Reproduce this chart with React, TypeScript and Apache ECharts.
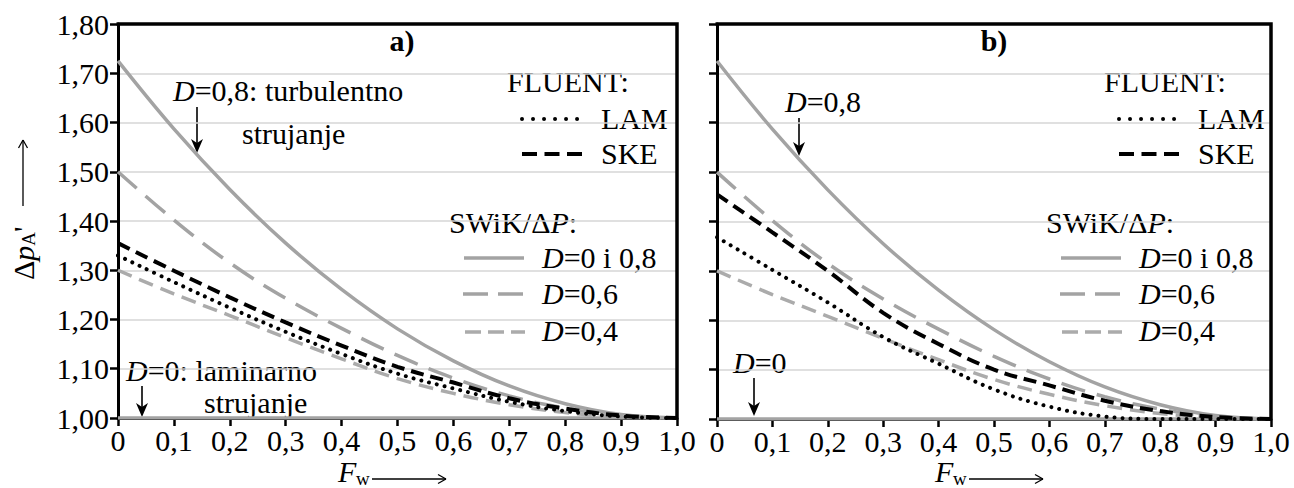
import React, { useEffect, useRef } from "react";
import * as echarts from "echarts";

const FONT = '"Liberation Serif", "Times New Roman", serif';
const FS = 30;

// x positions (relative flow-through area F_w)
const FW = [0, 0.1, 0.2, 0.3, 0.4, 0.5, 0.6, 0.7, 0.8, 0.9, 1.0];
const X_TICK_LABELS = ["0", "0,1", "0,2", "0,3", "0,4", "0,5", "0,6", "0,7", "0,8", "0,9", "1,0"];
const Y_TICK_LABELS = ["1,00", "1,10", "1,20", "1,30", "1,40", "1,50", "1,60", "1,70", "1,80"];

// SWiK/ΔP curves (same in both panels)
const SWIK_D0 = [1.0, 1.0, 1.0, 1.0, 1.0, 1.0, 1.0, 1.0, 1.0, 1.0, 1.0];
const SWIK_D08 = [1.725, 1.587, 1.464, 1.355, 1.261, 1.181, 1.116, 1.065, 1.029, 1.007, 1.0];
const SWIK_D06 = [1.5, 1.402, 1.315, 1.243, 1.182, 1.127, 1.081, 1.045, 1.02, 1.005, 1.0];
const SWIK_D04 = [1.3, 1.252, 1.208, 1.163, 1.12, 1.08, 1.05, 1.027, 1.011, 1.003, 1.0];

// FLUENT panel a)
const LAM_A = [1.33, 1.276, 1.224, 1.175, 1.13, 1.09, 1.06, 1.033, 1.014, 1.003, 1.0];
const SKE_A = [1.355, 1.299, 1.245, 1.194, 1.147, 1.104, 1.072, 1.04, 1.019, 1.005, 1.0];
// FLUENT panel b)
const LAM_B = [1.368, 1.302, 1.236, 1.166, 1.112, 1.06, 1.025, 1.005, 1.0, 1.0, 1.0];
const SKE_B = [1.455, 1.378, 1.3, 1.215, 1.152, 1.1, 1.068, 1.037, 1.016, 1.004, 1.0];

const GREY = "#a3a3a3";
const STY = {
  d0: { color: GREY, width: 3.5, type: "solid" },
  d08: { color: GREY, width: 3.5, type: "solid" },
  d06: { color: GREY, width: 3.5, type: [25, 12] },
  d04: { color: "#ababab", width: 3.5, type: [15, 8] },
  lam: { color: "#000", width: 4, type: [0.01, 8], cap: "round" },
  ske: { color: "#000", width: 4, type: [13, 7] },
};

const pairs = (ys: number[]) => FW.map((x, i) => [x, ys[i]]);

const RICH = {
  i: { fontStyle: "italic", fontSize: FS, fontFamily: FONT, fill: "#000" },
  n: { fontSize: FS, fontFamily: FONT, fill: "#000" },
  s: { fontSize: 19, fontFamily: FONT, fill: "#000", verticalAlign: "bottom" },
  p: { fontSize: FS, fontFamily: FONT, fill: "#000", verticalAlign: "top" },
};

const T = (x: number, y: number, text: string, extra: any = {}) => ({
  type: "text",
  x,
  y,
  silent: true,
  style: {
    text,
    fill: "#000",
    fontSize: FS,
    fontFamily: FONT,
    textAlign: "left",
    textVerticalAlign: "middle",
    rich: RICH,
    ...extra,
  },
});

const L = (x1: number, y1: number, x2: number, y2: number, w: number) => ({
  type: "line",
  silent: true,
  shape: { x1, y1, x2, y2 },
  style: { stroke: "#000", lineWidth: w },
});

const downArrow = (x: number, y1: number, y2: number) => [
  L(x, y1, x, y2 - 8, 1.6),
  {
    type: "polygon",
    silent: true,
    shape: { points: [[x - 6, y2 - 14], [x, y2], [x + 6, y2 - 14], [x, y2 - 10]] },
    style: { fill: "#000" },
  },
];

const rightArrow = (x1: number, x2: number, y: number) => [
  L(x1, y, x2, y, 1.3),
  L(x2 - 8, y - 4.5, x2, y, 1.3),
  L(x2 - 8, y + 4.5, x2, y, 1.3),
];

const upArrow = (x: number, y1: number, y2: number) => [
  L(x, y1, x, y2, 1.3),
  L(x - 4.5, y2 + 8, x, y2, 1.3),
  L(x + 4.5, y2 + 8, x, y2, 1.3),
];

const legLine = (x1: number, x2: number, y: number, st: any) => ({
  type: "line",
  silent: true,
  shape: { x1, y1: y, x2, y2: y },
  style: {
    stroke: st.color,
    lineWidth: st.width,
    lineDash: Array.isArray(st.type) ? st.type : null,
    lineCap: st.cap || "butt",
  },
});

const legend = (dx: number) => [
  T(507 + dx, 81, "FLUENT:"),
  legLine(522 + dx, 580 + dx, 119, { ...STY.lam, type: [0.01, 11] }),
  T(601 + dx, 118, "LAM"),
  legLine(522 + dx, 582 + dx, 154, { ...STY.ske, type: [15, 7.5] }),
  T(601 + dx, 153, "SKE"),
  T(449 + dx, 222, "SWiK/Δ{i|P}:"),
  legLine(464 + dx, 524 + dx, 258, STY.d08),
  T(542 + dx, 257, "{i|D}=0 i 0,8"),
  legLine(463 + dx, 527 + dx, 294, { ...STY.d06, type: [25, 10] }),
  T(542 + dx, 293, "{i|D}=0,6"),
  legLine(465 + dx, 525 + dx, 332, { ...STY.d04, type: [16, 7] }),
  T(542 + dx, 330, "{i|D}=0,4"),
];

// frame (top and right edges) of a plot area
const frame = (l: number, t: number, w: number, h: number) => ({
  type: "polyline",
  z: 100,
  shape: { points: [[l - 1.5, t], [l + w, t], [l + w, t + h]] },
  style: { stroke: "#000", lineWidth: 3.5, fill: null },
});

const xAxisDef = (gi: number) => ({
  type: "value",
  gridIndex: gi,
  min: 0,
  max: 1,
  interval: 0.1,
  axisLine: { show: true, lineStyle: { color: "#000", width: 3 } },
  axisTick: { show: true, length: 8, lineStyle: { color: "#000", width: 2.5 } },
  splitLine: { show: false },
  axisLabel: {
    show: true,
    color: "#000",
    fontSize: FS,
    fontFamily: FONT,
    margin: 7,
    formatter: (v: number) => X_TICK_LABELS[Math.round(v * 10)] ?? "",
  },
});

const yAxisDef = (gi: number, labels: boolean) => ({
  type: "value",
  gridIndex: gi,
  min: 1,
  max: 1.8,
  interval: 0.1,
  axisLine: { show: true, onZero: false, lineStyle: { color: "#000", width: 3 } },
  axisTick: { show: true, length: 8, lineStyle: { color: "#000", width: 2.5 } },
  splitLine: { show: true, lineStyle: { color: "#d6d6d6", width: 1.5 } },
  axisLabel: {
    show: labels,
    color: "#000",
    fontSize: FS,
    fontFamily: FONT,
    margin: 9,
    formatter: (v: number) => Y_TICK_LABELS[Math.round((v - 1) * 10)] ?? "",
  },
});

const mk = (name: string, data: number[], gi: number, st: any, z = 2) => ({
  type: "line",
  name,
  xAxisIndex: gi,
  yAxisIndex: gi,
  data: pairs(data),
  smooth: 0.4,
  symbol: "none",
  silent: true,
  z,
  lineStyle: { color: st.color, width: st.width, type: st.type, cap: st.cap || "butt" },
});

export default function App() {
  const ref = useRef<HTMLDivElement>(null);
  useEffect(() => {
    if (!ref.current) return;
    const chart = echarts.init(ref.current, null, { renderer: "svg" });
    const series: any[] = [];
    [0, 1].forEach((gi) => {
      series.push(mk("SWiK D=0", SWIK_D0, gi, STY.d0));
      series.push(mk("SWiK D=0,8", SWIK_D08, gi, STY.d08));
      series.push(mk("SWiK D=0,6", SWIK_D06, gi, STY.d06));
      series.push(mk("SWiK D=0,4", SWIK_D04, gi, STY.d04));
      series.push(mk("FLUENT LAM", gi === 0 ? LAM_A : LAM_B, gi, STY.lam, 3));
      series.push(mk("FLUENT SKE", gi === 0 ? SKE_A : SKE_B, gi, STY.ske, 3));
    });

    const graphic: any[] = [
      frame(118, 24, 559, 394),
      frame(717, 24, 554, 395),
      // panel labels
      T(402, 40, "a)", { textAlign: "center", fontWeight: "bold" }),
      T(994, 40, "b)", { textAlign: "center", fontWeight: "bold" }),
      // annotations a)
      T(173, 90, "{i|D}=0,8: turbulentno"),
      T(242, 133, "strujanje"),
      ...downArrow(197, 107, 153),
      T(126, 370, "{i|D}=0: laminarno"),
      T(204, 402, "strujanje"),
      ...downArrow(142, 386, 417),
      // annotations b)
      T(785, 101, "{i|D}=0,8"),
      ...downArrow(799, 118, 156),
      T(733, 362, "{i|D}=0"),
      ...downArrow(754, 378, 416),
      // legends
      ...legend(0),
      ...legend(597),
      // x axis titles
      T(338, 471, "F", { fontStyle: "italic", rich: undefined }),
      T(356, 478, "w", { fontSize: 19, rich: undefined }),
      ...rightArrow(372, 446, 479),
      T(935, 471, "F", { fontStyle: "italic", rich: undefined }),
      T(953, 478, "w", { fontSize: 19, rich: undefined }),
      ...rightArrow(969, 1043, 479),
      // y axis title
      {
        type: "group",
        x: 38,
        y: 280,
        rotation: Math.PI / 2,
        children: [
          {
            type: "text",
            x: 0,
            y: 0,
            silent: true,
            style: {
              text: "{n|Δ}{i|p}{s|A}{p|'}",
              fill: "#000",
              fontSize: FS,
              fontFamily: FONT,
              textAlign: "left",
              textVerticalAlign: "bottom",
              rich: RICH,
            },
          },
        ],
      },
      ...upArrow(23, 206, 140),
    ];

    chart.setOption({
      animation: false,
      grid: [
        { left: 118, top: 24, width: 559, height: 394 },
        { left: 717, top: 24, width: 554, height: 395 },
      ],
      xAxis: [xAxisDef(0), xAxisDef(1)],
      yAxis: [yAxisDef(0, true), yAxisDef(1, false)],
      series,
      graphic,
    });
    return () => chart.dispose();
  }, []);
  return (
    <div
      ref={ref}
      style={{ position: "fixed", left: 0, top: 0, width: 1294, height: 488, background: "#fff" }}
    />
  );
}
